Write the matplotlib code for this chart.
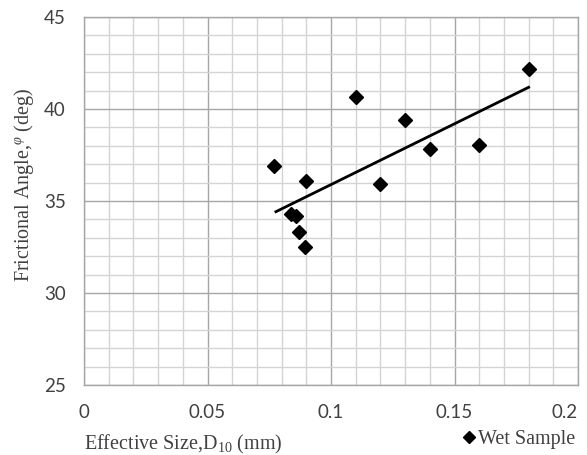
import matplotlib
matplotlib.use("Agg")
import matplotlib.pyplot as plt
from matplotlib.ticker import MultipleLocator

# Data
d10 = [0.077, 0.084, 0.086, 0.087, 0.0895, 0.090, 0.110, 0.120, 0.130, 0.140, 0.160, 0.180]
phi = [36.9, 34.3, 34.2, 33.3, 32.5, 36.1, 40.65, 35.95, 39.4, 37.8, 38.05, 42.2]
trend_x = [0.0777, 0.180]
trend_y = [34.42, 41.18]
x_ticks = [0, 0.05, 0.1, 0.15, 0.2]
x_tick_labels = ["0", "0.05", "0.1", "0.15", "0.2"]
y_ticks = [25, 30, 35, 40, 45]

plt.rcParams['mathtext.fontset'] = 'custom'
plt.rcParams['mathtext.rm'] = 'Liberation Serif'
plt.rcParams['mathtext.it'] = 'Liberation Serif:italic'

fig = plt.figure(figsize=(5.87, 4.55), dpi=100)
ax = fig.add_axes([0.1431, 0.1538, 0.8416, 0.8088])

ax.plot(d10, phi, linestyle='none', marker='D', color='black', markersize=7.5, label='Wet Sample', zorder=3)
ax.plot(trend_x, trend_y, color='black', linewidth=2, zorder=3)

ax.set_xlim(0, 0.2)
ax.set_ylim(25, 45)
ax.set_xticks(x_ticks)
ax.set_xticklabels(x_tick_labels)
ax.set_yticks(y_ticks)
ax.xaxis.set_minor_locator(MultipleLocator(0.01))
ax.yaxis.set_minor_locator(MultipleLocator(1))
ax.grid(which='major', color='#a6a6a6', linewidth=1.0)
ax.grid(which='minor', color='#d4d4d4', linewidth=1.0)
ax.set_axisbelow(True)
for s in ax.spines.values():
    s.set_color('#a6a6a6')
    s.set_linewidth(1.0)

ax.tick_params(which='both', length=0)
ax.tick_params(axis='y', pad=13, labelsize=13.5, labelcolor='#404040')
ax.tick_params(axis='x', pad=14, labelsize=13.5, labelcolor='#404040')
for lab in ax.get_xticklabels() + ax.get_yticklabels():
    lab.set_fontfamily('Lato')
ax.get_xticklabels()[-1].set_horizontalalignment('right')

ax.set_xlabel('Effective Size,D$_{10}$ (mm)', fontfamily='Liberation Serif', fontsize=14.5,
              color='#404040', labelpad=8, loc='left')
ax.set_ylabel('Frictional Angle,$^{\\varphi}$ (deg)', fontfamily='Liberation Serif', fontsize=14.5,
              color='#404040')
ax.yaxis.set_label_coords(-0.097, 0.543)

leg = ax.legend(loc='lower right', bbox_to_anchor=(1.032, -0.222), frameon=False,
                handletextpad=0.0, handlelength=0.9, markerscale=0.85,
                prop={'family': 'Liberation Serif', 'size': 14.5})
for t in leg.get_texts():
    t.set_color('#404040')

fig.savefig('out.png', dpi=100)
